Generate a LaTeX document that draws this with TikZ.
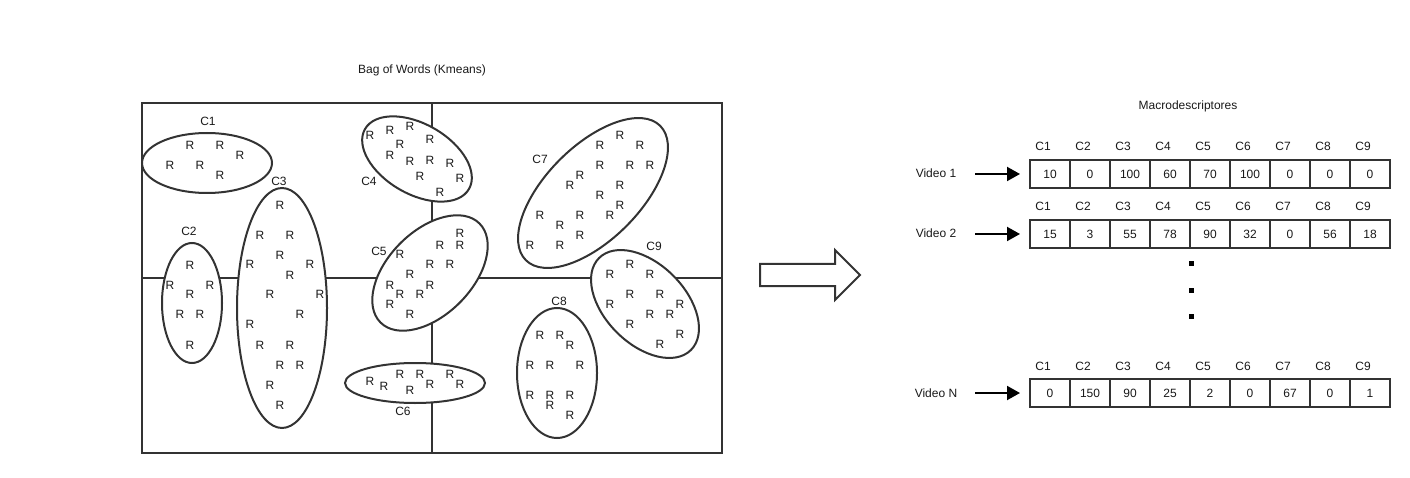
\documentclass[tikz,border=0pt]{standalone}
\usepackage{fontspec}
\setmainfont{Liberation Sans}
\usetikzlibrary{shapes.geometric,arrows.meta}
\begin{document}
\begin{tikzpicture}[x=1pt,y=-1pt,
  every node/.style={font=\fontsize{12}{14}\selectfont, text=black!90, inner sep=0pt},
  ln/.style={line width=2pt, draw=black!80},
  clus/.style={ellipse, line width=2pt, draw=black!80, fill=white, inner sep=0pt},
  cell/.style={draw=black!80, line width=2pt, minimum width=40pt, minimum height=28pt},
  vec/.style={line width=2pt, draw=black, -{Triangle[length=13pt,width=14pt]}},
  dot/.style={fill=black, minimum size=5pt, inner sep=0pt}
]
\useasboundingbox (0,0) rectangle (1410,478);

% titles
\node (t1) at (422,70) {Bag of Words (Kmeans)};
\node (t2) at (1188,106) {Macrodescriptores};

% grid
\draw[ln] (142,103) rectangle (722,453);
\draw[ln] (432,103) -- (432,453);
\draw[ln] (142,278) -- (722,278);

% clusters
\node[clus, minimum width=130pt, minimum height=60pt] (e1) at (207,163) {};
\node[clus, minimum width=60pt, minimum height=120pt] (e2) at (192,303) {};
\node[clus, minimum width=90pt, minimum height=240pt] (e3) at (282,308) {};
\node[clus, minimum width=120pt, minimum height=70pt, rotate=-30] (e4) at (417,159) {};
\node[clus, minimum width=140pt, minimum height=84pt, rotate=45] (e5) at (430,273) {};
\node[clus, minimum width=140pt, minimum height=40pt] (e6) at (415,383) {};
\node[clus, minimum width=190pt, minimum height=94pt, rotate=45] (e7) at (593,193) {};
\node[clus, minimum width=80pt, minimum height=130pt] (e8) at (557,373) {};
\node[clus, minimum width=130pt, minimum height=80pt, rotate=-45] (e9) at (645,304) {};

% cluster labels
\node (l1) at (208,121) {C1};
\node (l2) at (189,231) {C2};
\node (l3) at (279,181) {C3};
\node (l4) at (369,181) {C4};
\node (l5) at (379,251) {C5};
\node (l6) at (403,411) {C6};
\node (l7) at (540,159) {C7};
\node (l8) at (559,301) {C8};
\node (l9) at (654,246) {C9};

% R points
\foreach \x/\y [count=\i] in {190/145,220/145,240/155,170/165,200/165,220/175,
  190/265,170/285,210/285,190/294,180/314,200/314,190/345,
  280/205,260/235,290/235,280/255,250/264,310/264,290/275,270/294,320/294,300/314,250/324,260/345,290/345,280/365,300/365,270/385,280/405,
  370/135,390/130,410/126,430/139,400/144,390/155,410/161,430/160,450/163,420/176,460/178,440/192,
  460/233,440/245,460/245,400/254,430/264,450/264,410/274,390/285,430/285,400/294,420/294,390/304,410/314,
  370/381,384/386,400/374,410/390,420/374,430/384,450/374,460/384,
  620/135,600/145,640/145,600/165,630/165,650/165,580/175,570/185,620/185,600/195,620/205,610/215,540/215,580/215,560/225,580/235,530/245,560/245,
  540/335,560/335,570/345,530/365,550/365,580/365,530/395,550/395,570/395,550/405,570/415,
  630/264,610/274,650/274,630/294,660/294,610/304,680/304,650/314,670/314,630/324,680/334,660/344}
  \node (r\i) at (\x,\y) {R};

% big arrow
\draw[ln, fill=white] (760,264) -- (835,264) -- (835,250) -- (860,275) -- (835,300) -- (835,286) -- (760,286) -- cycle;

% vectors
\node (v1) at (936,173) {Video 1};
\node (v2) at (936,233) {Video 2};
\node (vn) at (936,393) {Video N};

\foreach \v [count=\i] in {10,0,100,60,70,100,0,0,0} {
  \node[cell] (a\i) at ({1010+40*\i},174) {\v};
  \node (ha\i) at ({1003+40*\i},146) {C\i};
}
\foreach \v [count=\i] in {15,3,55,78,90,32,0,56,18} {
  \node[cell] (b\i) at ({1010+40*\i},234) {\v};
  \node (hb\i) at ({1003+40*\i},206) {C\i};
}
\foreach \v [count=\i] in {0,150,90,25,2,0,67,0,1} {
  \node[cell] (n\i) at ({1010+40*\i},393) {\v};
  \node (hn\i) at ({1003+40*\i},366) {C\i};
}

\coordinate (s1) at (975,174);
\coordinate (s2) at (975,234);
\coordinate (sn) at (975,393);
\draw[vec] (s1) -- ([xshift=-9pt]a1.west);
\draw[vec] (s2) -- ([xshift=-9pt]b1.west);
\draw[vec] (sn) -- ([xshift=-9pt]n1.west);

% dots
\node[dot] (d1) at (1191,264) {};
\node[dot] (d2) at (1191,290) {};
\node[dot] (d3) at (1191,316) {};
\end{tikzpicture}
\end{document}
